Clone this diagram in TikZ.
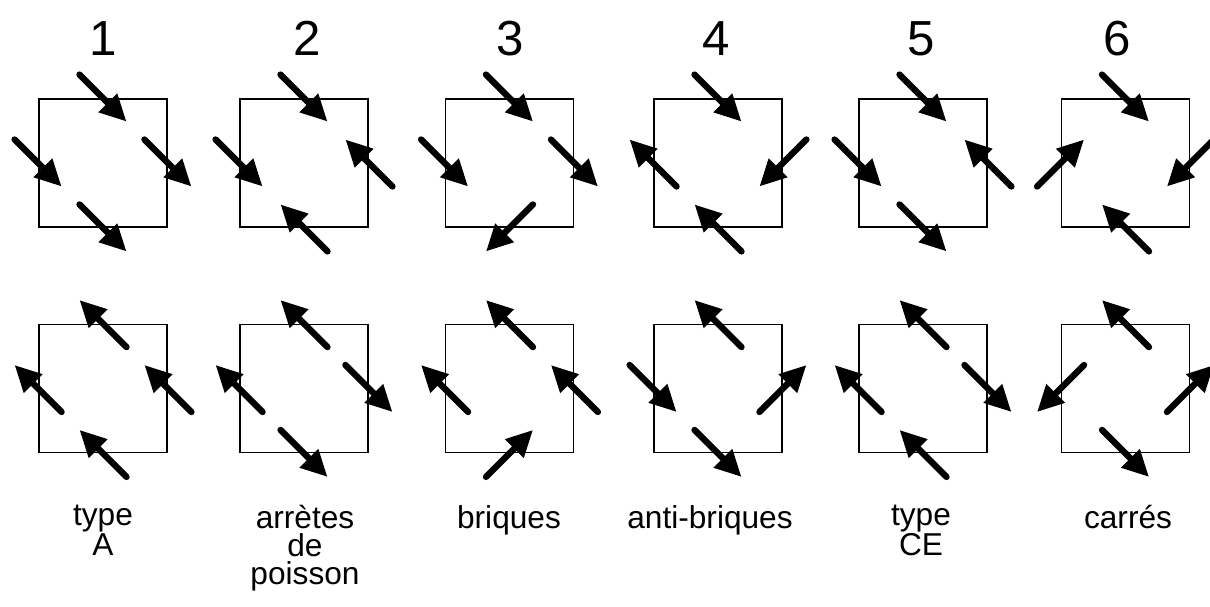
\documentclass[tikz,border=0pt]{standalone}
\usepackage{fontspec}
\setmainfont{Liberation Sans}
\usetikzlibrary{arrows.meta, calc}

% one spin arrow across an edge of a cell
\newcommand{\spin}[2]{\draw[spinarr] ($(#1)-23.5*(#2)$) -- ($(#1)+23.5*(#2)$);}
% the four spins of a cell: top, left, right, bottom
\newcommand{\spins}[5]{\spin{#1.north}{#2}\spin{#1.west}{#3}\spin{#1.east}{#4}\spin{#1.south}{#5}}

\begin{document}
\begin{tikzpicture}[
    x=0.025cm, y=-0.025cm,
    cell/.style={draw, line width=1.3pt, minimum size=3.2cm, inner sep=0pt},
    spinarr/.style={-{Triangle[length=6.6mm, width=6.2mm]}, line width=4.5pt, line cap=round},
    num/.style={font=\fontsize{35pt}{35pt}\selectfont, inner sep=0pt, anchor=base},
    lab/.style={font=\fontsize{22.5pt}{20pt}\selectfont, align=center, inner sep=0pt, anchor=north}
]
    \useasboundingbox (0,0) rectangle (1210,606);

    \node[num] (n1) at (103, 55) {1};
    \node[num] (n2) at (307, 55) {2};
    \node[num] (n3) at (510, 55) {3};
    \node[num] (n4) at (716, 55) {4};
    \node[num] (n5) at (921, 55) {5};
    \node[num] (n6) at (1117, 55) {6};

    \node[cell] (a1) at (103, 163) {};
    \node[cell] (a2) at (304, 163) {};
    \node[cell] (a3) at (509.5, 163) {};
    \node[cell] (a4) at (718, 163) {};
    \node[cell] (a5) at (923, 163) {};
    \node[cell] (a6) at (1125.5, 163) {};

    \node[cell] (b1) at (103, 388.5) {};
    \node[cell] (b2) at (304, 388.5) {};
    \node[cell] (b3) at (509.5, 388.5) {};
    \node[cell] (b4) at (718, 388.5) {};
    \node[cell] (b5) at (923, 388.5) {};
    \node[cell] (b6) at (1125.5, 388.5) {};

    \spins{a1}{1,1}{1,1}{1,1}{1,1}
    \spins{a2}{1,1}{1,1}{-1,-1}{-1,-1}
    \spins{a3}{1,1}{1,1}{1,1}{-1,1}
    \spins{a4}{1,1}{-1,-1}{-1,1}{-1,-1}
    \spins{a5}{1,1}{1,1}{-1,-1}{1,1}
    \spins{a6}{1,1}{1,-1}{-1,1}{-1,-1}

    \spins{b1}{-1,-1}{-1,-1}{-1,-1}{-1,-1}
    \spins{b2}{-1,-1}{-1,-1}{1,1}{1,1}
    \spins{b3}{-1,-1}{-1,-1}{-1,-1}{1,-1}
    \spins{b4}{-1,-1}{1,1}{1,-1}{1,1}
    \spins{b5}{-1,-1}{-1,-1}{1,1}{-1,-1}
    \spins{b6}{-1,-1}{-1,1}{1,-1}{1,1}

    \node[lab] (l1) at (103, 505) {type\\A};
    \node[lab] (l2) at (305, 505) {arrètes\\de\\poisson};
    \node[lab] (l3) at (509, 505) {briques};
    \node[lab] (l4) at (710, 505) {anti-briques};
    \node[lab] (l5) at (921, 505) {type\\CE};
    \node[lab] (l6) at (1128, 505) {carrés};
\end{tikzpicture}
\end{document}
